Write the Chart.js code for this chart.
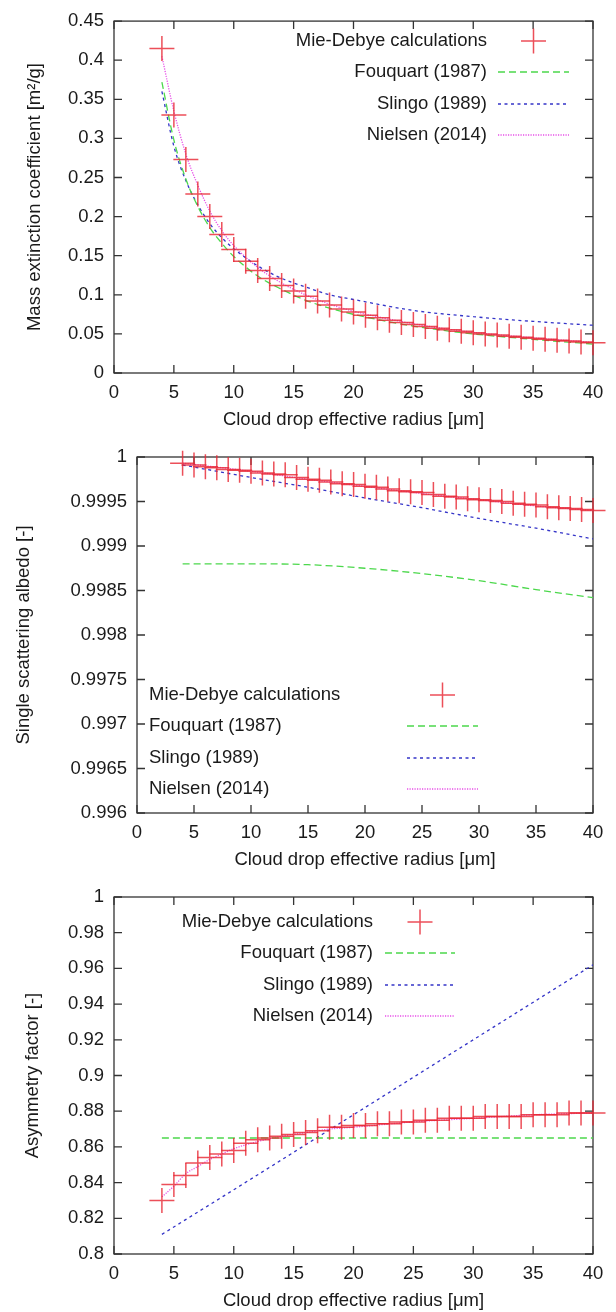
<!DOCTYPE html>
<html>
<head>
<meta charset="utf-8">
<title>Cloud optical properties</title>
<script src="https://cdn.jsdelivr.net/npm/chart.js@4.4.0/dist/chart.umd.min.js"></script>
<style>
    html, body { margin: 0; padding: 0; background: #fff; }
    body { position: relative; width: 616px; height: 1312px; overflow: hidden; }
    canvas { position: absolute; left: 0; }
</style>
</head>
<body>
<canvas id="extChart" width="616" height="440" style="top:0px"></canvas>
<canvas id="albedoChart" width="616" height="460" style="top:420px"></canvas>
<canvas id="asymChart" width="616" height="452" style="top:860px"></canvas>

<script>
// Mie-Debye sample radii (um)
const radius = [4, 5, 6, 7, 8, 9, 10, 11, 12, 13, 14, 15, 16, 17, 18, 19, 20, 21, 22,
    23, 24, 25, 26, 27, 28, 29, 30, 31, 32, 33, 34, 35, 36, 37, 38, 39, 40];

const mieExtinction = [0.415, 0.330, 0.273, 0.229, 0.200, 0.177, 0.158, 0.143, 0.131, 0.121,
    0.112, 0.105, 0.098, 0.092, 0.087, 0.082, 0.078, 0.074, 0.0705, 0.0675, 0.0645, 0.062,
    0.0595, 0.0573, 0.0553, 0.0534, 0.0516, 0.050, 0.0485, 0.047, 0.0456, 0.0443, 0.0431,
    0.042, 0.0409, 0.0398, 0.0388];

const mieAlbedo = [0.99993, 0.99991, 0.99989, 0.99988, 0.99986, 0.99985, 0.99984, 0.99982,
    0.99981, 0.99980, 0.99977, 0.99975, 0.99974, 0.99972, 0.99970, 0.99969, 0.99967, 0.99966,
    0.99964, 0.99962, 0.99961, 0.99960, 0.99958, 0.99956, 0.99955, 0.99953, 0.99952, 0.99951,
    0.99950, 0.99948, 0.99947, 0.99946, 0.99944, 0.99943, 0.99942, 0.99941, 0.99940];

const mieAsymmetry = [0.830, 0.839, 0.844, 0.851, 0.854, 0.856, 0.858, 0.862, 0.864, 0.865,
    0.866, 0.867, 0.868, 0.869, 0.871, 0.871, 0.872, 0.872, 0.873, 0.873, 0.874, 0.874, 0.875,
    0.875, 0.876, 0.876, 0.876, 0.877, 0.877, 0.877, 0.877, 0.878, 0.878, 0.878, 0.879, 0.879,
    0.879];

// Parameterisations, evaluated at a coarser set of radii
const fitRadius = [4, 5, 6, 7, 8, 9, 10, 12, 14, 16, 18, 20, 25, 30, 35, 40];
const fouquartExtinction = [0.372, 0.298, 0.248, 0.213, 0.186, 0.166, 0.149, 0.124, 0.107,
    0.093, 0.083, 0.075, 0.060, 0.050, 0.043, 0.037];
const slingoExtinction = [0.360, 0.290, 0.246, 0.215, 0.191, 0.173, 0.159, 0.137, 0.121,
    0.110, 0.100, 0.094, 0.080, 0.072, 0.066, 0.061];
const nielsenExtinction = [0.405, 0.335, 0.280, 0.240, 0.207, 0.182, 0.163, 0.135, 0.115,
    0.100, 0.088, 0.079, 0.063, 0.052, 0.045, 0.039];

const albedoRadius = [4, 10, 15, 20, 25, 30, 35, 40];
const fouquartAlbedo = [0.99880, 0.99880, 0.99879, 0.99875, 0.99869, 0.99861, 0.99851, 0.99842];
const slingoAlbedo = [0.99991, 0.99977, 0.99966, 0.99954, 0.99943, 0.99931, 0.99920, 0.99908];
const nielsenAlbedo = [0.99993, 0.99984, 0.99975, 0.99967, 0.99959, 0.99952, 0.99945, 0.99940];

const asymRadius = [4, 10, 20, 30, 40];
const fouquartAsymmetry = [0.865, 0.865, 0.865, 0.865, 0.865];
const slingoAsymmetry = [0.811, 0.836, 0.878, 0.920, 0.962];
const nielsenAsymmetry = [0.832, 0.838, 0.845, 0.849, 0.853, 0.856, 0.859, 0.863, 0.866,
    0.868, 0.870, 0.871, 0.874, 0.876, 0.878, 0.879];

// Tick labels
const xTickLabels = ['0', '5', '10', '15', '20', '25', '30', '35', '40'];
const extTickLabels = ['0', '0.05', '0.1', '0.15', '0.2', '0.25', '0.3', '0.35', '0.4', '0.45'];
const albedoTickLabels = ['0.996', '0.9965', '0.997', '0.9975', '0.998', '0.9985', '0.999',
    '0.9995', '1'];
const asymTickLabels = ['0.8', '0.82', '0.84', '0.86', '0.88', '0.9', '0.92', '0.94', '0.96',
    '0.98', '1'];

const FONT = { family: '"Liberation Sans", Arial, sans-serif', size: 18.5 };
const TEXT = '#1a1a1a';
const TICK = 8;

function points(xs, ys) {
    return xs.map((x, i) => ({ x: x, y: ys[i] }));
}

function mieSet(values) {
    return {
        label: 'Mie-Debye calculations',
        data: points(radius, values),
        showLine: false,
        pointStyle: 'cross',
        pointRadius: 12.5,
        borderColor: 'rgba(232, 40, 52, 0.82)',
        borderWidth: 1.5,
        clip: false
    };
}

function lineSet(label, xs, ys, color, dash) {
    return {
        label: label,
        data: points(xs, ys),
        showLine: true,
        pointRadius: 0,
        borderColor: color,
        borderWidth: 1.3,
        borderDash: dash,
        cubicInterpolationMode: 'monotone'
    };
}

// Box around the plot area, ticks pointing inward on all four sides
const framePlugin = {
    id: 'frame',
    beforeDatasetsDraw(chart) {
        const { ctx, chartArea: a, scales: { x, y } } = chart;
        ctx.save();
        ctx.strokeStyle = '#333';
        ctx.lineWidth = 1.3;
        ctx.strokeRect(a.left, a.top, a.right - a.left, a.bottom - a.top);
        ctx.beginPath();
        x.ticks.forEach(t => {
            const px = x.getPixelForValue(t.value);
            ctx.moveTo(px, a.bottom);
            ctx.lineTo(px, a.bottom - TICK);
            ctx.moveTo(px, a.top);
            ctx.lineTo(px, a.top + TICK);
        });
        y.ticks.forEach(t => {
            const py = y.getPixelForValue(t.value);
            ctx.moveTo(a.left, py);
            ctx.lineTo(a.left + TICK, py);
            ctx.moveTo(a.right, py);
            ctx.lineTo(a.right - TICK, py);
        });
        ctx.stroke();
        ctx.restore();
    }
};

// Key drawn inside the plot: text, then a sample of each dataset's style
function keyPlugin(key) {
    return {
        id: 'key',
        afterDatasetsDraw(chart) {
            const ctx = chart.ctx;
            ctx.save();
            ctx.font = `${FONT.size}px ${FONT.family}`;
            ctx.textBaseline = 'middle';
            ctx.textAlign = key.align;
            chart.data.datasets.forEach((ds, i) => {
                const yy = key.rows[i];
                ctx.fillStyle = TEXT;
                ctx.fillText(ds.label, key.textX, yy);
                ctx.strokeStyle = ds.borderColor;
                ctx.lineWidth = ds.borderWidth;
                ctx.beginPath();
                if (ds.pointStyle === 'cross') {
                    const cx = (key.x1 + key.x2) / 2;
                    const r = ds.pointRadius;
                    ctx.setLineDash([]);
                    ctx.moveTo(cx - r, yy);
                    ctx.lineTo(cx + r, yy);
                    ctx.moveTo(cx, yy - r);
                    ctx.lineTo(cx, yy + r);
                } else {
                    ctx.setLineDash(ds.borderDash || []);
                    ctx.moveTo(key.x1, yy);
                    ctx.lineTo(key.x2, yy);
                }
                ctx.stroke();
            });
            ctx.restore();
        }
    };
}

function makeChart(id, cfg) {
    const canvas = document.getElementById(id);
    const H = canvas.height;
    return new Chart(canvas, {
        type: 'scatter',
        data: { datasets: cfg.datasets },
        plugins: [framePlugin, keyPlugin(cfg.key)],
        options: {
            responsive: false,
            animation: false,
            events: [],
            layout: { padding: { top: cfg.top, right: 23, left: 0, bottom: 0 } },
            plugins: { legend: { display: false }, tooltip: { enabled: false } },
            scales: {
                x: {
                    type: 'linear',
                    min: 0,
                    max: 40,
                    afterBuildTicks: s => { s.ticks = xTickLabels.map(v => ({ value: Number(v) })); },
                    afterFit: s => { s.height = H - cfg.bottom; },
                    grid: { display: false, drawTicks: false },
                    border: { display: false },
                    ticks: {
                        autoSkip: false,
                        maxRotation: 0,
                        padding: 9,
                        color: TEXT,
                        font: FONT,
                        callback: (v, i) => xTickLabels[i]
                    },
                    title: {
                        display: true,
                        text: 'Cloud drop effective radius [μm]',
                        color: TEXT,
                        font: FONT,
                        padding: { top: 0, bottom: cfg.xTitlePad }
                    }
                },
                y: {
                    type: 'linear',
                    min: Number(cfg.yLabels[0]),
                    max: Number(cfg.yLabels[cfg.yLabels.length - 1]),
                    afterBuildTicks: s => { s.ticks = cfg.yLabels.map(v => ({ value: Number(v) })); },
                    afterFit: s => { s.width = cfg.left; },
                    grid: { display: false, drawTicks: false },
                    border: { display: false },
                    ticks: {
                        autoSkip: false,
                        padding: 10,
                        color: TEXT,
                        font: FONT,
                        callback: (v, i) => cfg.yLabels[i]
                    },
                    title: {
                        display: true,
                        text: cfg.yTitle,
                        color: TEXT,
                        font: FONT,
                        padding: { top: cfg.yTitlePad, bottom: 0 }
                    }
                }
            }
        }
    });
}

makeChart('extChart', {
    top: 16, bottom: 373, left: 114,
    xTitlePad: 9, yTitlePad: 24,
    yTitle: 'Mass extinction coefficient [m²/g]',
    yLabels: extTickLabels,
    key: { align: 'right', textX: 487, x1: 498, x2: 569, rows: [41, 72, 104, 135] },
    datasets: [
        mieSet(mieExtinction),
        lineSet('Fouquart (1987)', fitRadius, fouquartExtinction, '#4cd84c', [7, 4]),
        lineSet('Slingo (1989)', fitRadius, slingoExtinction, '#3434c8', [3, 3.5]),
        lineSet('Nielsen (2014)', fitRadius, nielsenExtinction, '#e850e8', [1.2, 1.3])
    ]
});

makeChart('albedoChart', {
    top: 37, bottom: 393, left: 137,
    xTitlePad: 9, yTitlePad: 13,
    yTitle: 'Single scattering albedo [-]',
    yLabels: albedoTickLabels,
    key: { align: 'left', textX: 149, x1: 407, x2: 478, rows: [275, 306, 338, 369] },
    datasets: [
        mieSet(mieAlbedo),
        lineSet('Fouquart (1987)', albedoRadius, fouquartAlbedo, '#4cd84c', [7, 4]),
        lineSet('Slingo (1989)', albedoRadius, slingoAlbedo, '#3434c8', [3, 3.5]),
        lineSet('Nielsen (2014)', albedoRadius, nielsenAlbedo, '#e850e8', [1.2, 1.3])
    ]
});

makeChart('asymChart', {
    top: 37, bottom: 394, left: 114,
    xTitlePad: 0, yTitlePad: 22,
    yTitle: 'Asymmetry factor [-]',
    yLabels: asymTickLabels,
    key: { align: 'right', textX: 373, x1: 385, x2: 455, rows: [62, 93, 125, 156] },
    datasets: [
        mieSet(mieAsymmetry),
        lineSet('Fouquart (1987)', asymRadius, fouquartAsymmetry, '#4cd84c', [7, 4]),
        lineSet('Slingo (1989)', asymRadius, slingoAsymmetry, '#3434c8', [3, 3.5]),
        lineSet('Nielsen (2014)', fitRadius, nielsenAsymmetry, '#e850e8', [1.2, 1.3])
    ]
});
</script>
</body>
</html>
